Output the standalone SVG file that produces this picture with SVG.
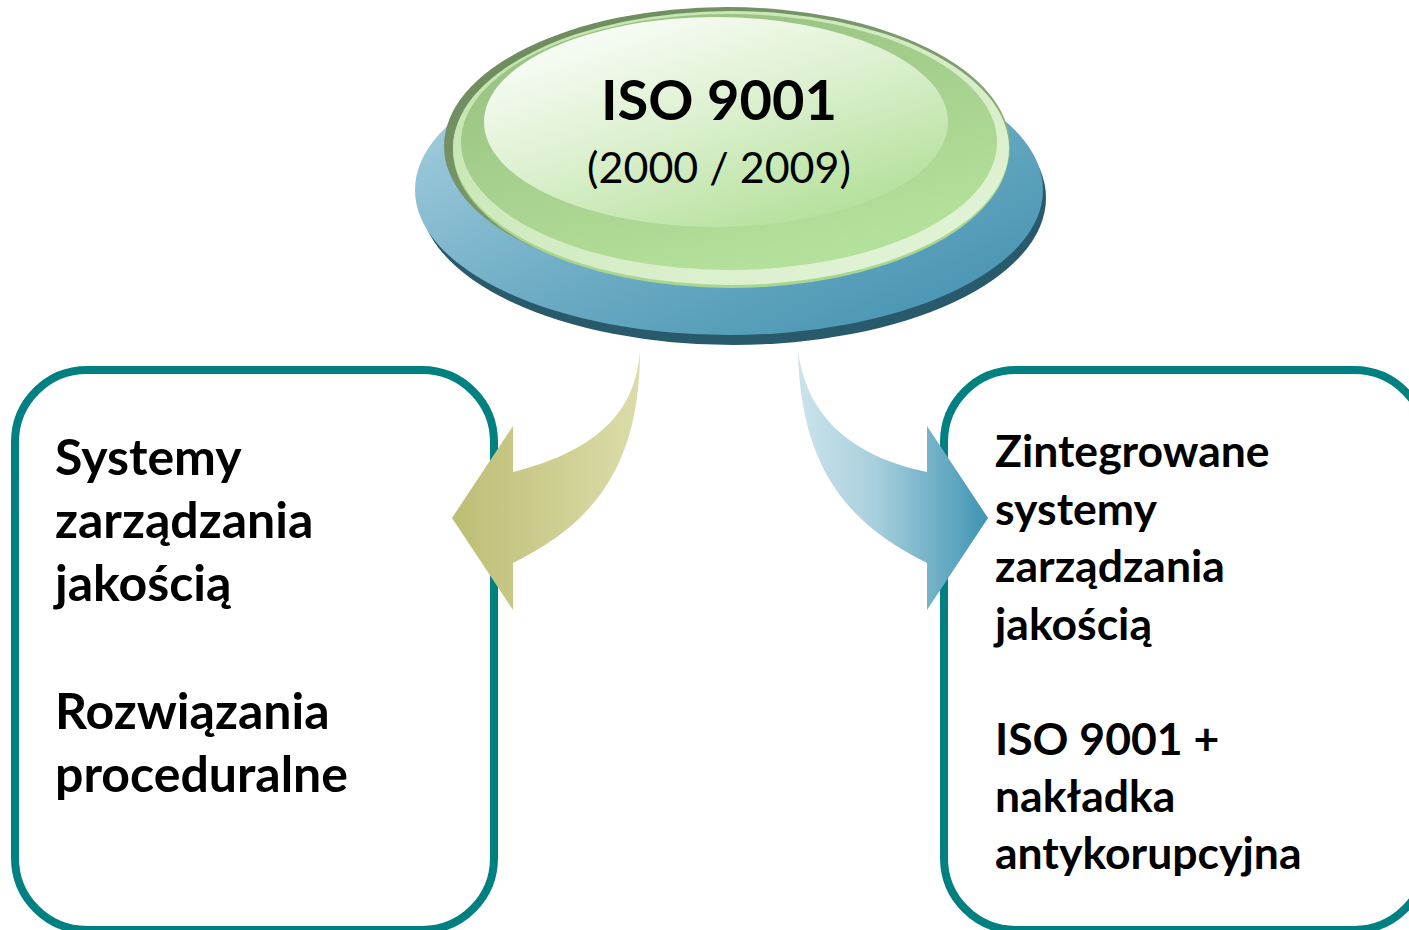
<svg xmlns="http://www.w3.org/2000/svg" width="1409" height="930" viewBox="0 0 1409 930">
<defs>
<linearGradient id="gBlue" x1="0" y1="0" x2="1" y2="1">
<stop offset="0" stop-color="#b3d6e4"/><stop offset="0.55" stop-color="#6aaac3"/><stop offset="1" stop-color="#3f8fae"/>
</linearGradient>
<linearGradient id="gRim" x1="0" y1="0" x2="1" y2="1">
<stop offset="0" stop-color="#6a875b"/><stop offset="0.55" stop-color="#7e9c6d"/><stop offset="1" stop-color="#a6d58c"/>
</linearGradient>
<linearGradient id="gRing" x1="0" y1="0" x2="1" y2="1">
<stop offset="0" stop-color="#bfe2a8"/><stop offset="1" stop-color="#e6f5dc"/>
</linearGradient>
<linearGradient id="gBand" x1="0" y1="0" x2="0.5" y2="1">
<stop offset="0" stop-color="#95bc7e"/><stop offset="1" stop-color="#b3e09a"/>
</linearGradient>
<linearGradient id="gInner" x1="0.1" y1="0" x2="0.8" y2="1">
<stop offset="0" stop-color="#ffffff"/><stop offset="0.5" stop-color="#dcf0cf"/><stop offset="1" stop-color="#b0df95"/>
</linearGradient>
<linearGradient id="gOlive" x1="452" y1="0" x2="640" y2="0" gradientUnits="userSpaceOnUse">
<stop offset="0" stop-color="#bdbe74"/><stop offset="1" stop-color="#dcdcaa"/>
</linearGradient>
<linearGradient id="gArrowBlue" x1="798" y1="0" x2="988" y2="0" gradientUnits="userSpaceOnUse">
<stop offset="0" stop-color="#cbe3eb"/><stop offset="0.4" stop-color="#a9d0dd"/><stop offset="1" stop-color="#3f94b3"/>
</linearGradient>
<style>
.box{fill:#ffffff;stroke:#008080;stroke-width:8}
.t{font-family:Lato,"Open Sans",sans-serif;font-weight:bold;fill:#000}
</style>
</defs>
<rect width="1409" height="930" fill="#ffffff"/>

<g id="node-left">
<rect class="box" x="15" y="370" width="479" height="560" rx="72" ry="72"/>
<text class="t" font-size="50"><tspan x="55" y="475">Systemy</tspan><tspan x="55" y="538">zarządzania</tspan><tspan x="55" y="601">jakością</tspan><tspan x="55" y="729">Rozwiązania</tspan><tspan x="55" y="792">proceduralne</tspan></text>
</g>

<g id="node-right">
<rect class="box" x="944" y="370" width="482" height="560" rx="72" ry="72"/>
<text class="t" font-size="44.5"><tspan x="995" y="467">Zintegrowane</tspan><tspan x="995" y="525">systemy</tspan><tspan x="995" y="582">zarządzania</tspan><tspan x="995" y="640">jakością</tspan><tspan x="995" y="755">ISO 9001 +</tspan><tspan x="995" y="812">nakładka</tspan><tspan x="995" y="869">antykorupcyjna</tspan></text>
</g>

<g id="node-iso">
<ellipse cx="733" cy="198" rx="313" ry="147" fill="#285a6b"/>
<ellipse cx="729" cy="190" rx="314" ry="145" fill="url(#gBlue)"/>
<ellipse cx="727" cy="146" rx="283" ry="139" fill="url(#gRim)"/>
<ellipse cx="731" cy="150" rx="278" ry="138" fill="#a8d690"/>
<ellipse cx="731" cy="148" rx="278" ry="137" fill="url(#gRing)"/>
<ellipse cx="729" cy="142" rx="268" ry="128" fill="url(#gBand)"/>
<ellipse cx="716" cy="122" rx="232" ry="105" fill="url(#gInner)"/>
<text class="t" font-size="56" x="719" y="120" text-anchor="middle">ISO 9001</text>
<text font-family="Lato,'Open Sans',sans-serif" font-size="43" x="719" y="183" text-anchor="middle" fill="#000">(2000 / 2009)</text>
</g>

<g id="connectors">
<path d="M640,350 C636,410 600,450 513,472 L513,426 L452,518 L513,610 L513,563 C590,525 640,470 640,350 Z" fill="url(#gOlive)"/>
<path d="M798,350 C805,410 845,455 927,472 L927,426 L988,518 L927,610 L927,563 C850,525 800,470 798,350 Z" fill="url(#gArrowBlue)"/>
</g>
</svg>
